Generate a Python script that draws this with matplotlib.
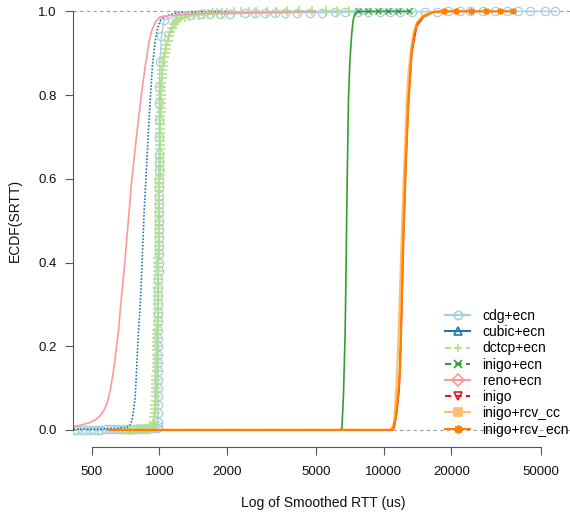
import matplotlib
matplotlib.use('Agg')
from matplotlib import pyplot as plt
from matplotlib.ticker import FixedLocator, NullLocator, FixedFormatter
from matplotlib.lines import Line2D

plt.rcParams['font.family'] = ['Liberation Sans', 'DejaVu Sans']

# ---- data (SRTT in us, ECDF value) ----
labels = ['cdg+ecn', 'cubic+ecn', 'dctcp+ecn', 'inigo+ecn', 'reno+ecn',
          'inigo', 'inigo+rcv_cc', 'inigo+rcv_ecn']
colors = ['#A6CEE3', '#1F78B4', '#B2DF8A', '#33A02C', '#FB9A99',
          '#E31A1C', '#FDBF6F', '#FF7F00']

cdg_x = [414, 430, 450, 470, 490, 510, 530, 550, 575, 600, 625, 650, 680,
         710, 740, 770, 800, 830, 860, 890, 920, 950, 970, 980,
         982, 983, 983, 984, 984, 985, 985, 986, 986, 987, 987, 987, 988,
         988, 988, 989, 989, 989, 990, 990, 990, 991, 991, 991, 992, 992,
         992, 993, 993, 994, 994, 995, 995, 996, 997, 998, 1000, 1005,
         1020, 1050,
         1236, 1370, 1518, 1682, 1864, 2065, 2409, 2669, 2958, 3277, 3631,
         4107, 4690, 5310, 6070, 6720, 7680, 8510, 9640, 10660, 11810,
         13360, 15260, 17260, 19320, 21850, 24210, 27670, 31290, 35390,
         39620, 44810, 52230, 57700]
cdg_y = [0.001, 0.001, 0.001, 0.001, 0.001, 0.001, 0.001, 0.001, 0.002,
         0.002, 0.002, 0.002, 0.002, 0.002, 0.002, 0.002, 0.003, 0.003,
         0.003, 0.003, 0.004, 0.004, 0.005, 0.01,
         0.02, 0.04, 0.06, 0.08, 0.10, 0.12, 0.14, 0.16, 0.18, 0.20, 0.22,
         0.24, 0.26, 0.28, 0.30, 0.32, 0.34, 0.36, 0.38, 0.40, 0.42, 0.44,
         0.46, 0.48, 0.50, 0.52, 0.54, 0.56, 0.58, 0.60, 0.62, 0.64, 0.66,
         0.70, 0.74, 0.78, 0.82, 0.88, 0.94, 0.98,
         0.991, 0.992, 0.993, 0.993, 0.994, 0.994, 0.995, 0.995, 0.996,
         0.996, 0.996, 0.997, 0.997, 0.997, 0.998, 0.998, 0.998, 0.998,
         0.999, 0.999, 0.999, 0.999, 0.999, 0.999, 1.0, 1.0, 1.0, 1.0,
         1.0, 1.0, 1.0, 1.0, 1.0, 1.0]

cubic_x = [414, 500, 600, 716, 740, 753, 766, 779, 793, 806, 821, 838, 855,
           870, 890, 909, 930, 957, 980, 1010, 1079, 1200, 1500, 2000]
cubic_y = [0.002, 0.002, 0.003, 0.006, 0.012, 0.022, 0.045, 0.078, 0.158,
           0.237, 0.30, 0.41, 0.525, 0.60, 0.70, 0.788, 0.87, 0.93, 0.96,
           0.978, 0.99, 0.997, 0.999, 1.0]

dctcp_x = [690, 710, 730, 750, 770, 790, 810, 830, 850, 870, 890, 905, 918,
           928, 935, 940, 945, 950,
           953, 956, 958, 960, 962, 964, 966, 967, 968, 969,
           970, 971, 972, 973, 974, 975, 976, 977, 977, 978,
           979, 980, 980, 981, 982, 982, 983, 984, 984, 985,
           985, 986, 987, 987, 988, 988, 989, 989, 990, 990,
           991, 991, 992, 992, 993, 993, 994, 995, 995, 996,
           996, 997, 997, 998, 999, 999, 1000, 1001, 1001, 1002,
           1003, 1003, 1004, 1005, 1005, 1006, 1007, 1007, 1008, 1009,
           1009, 1010, 1011, 1011, 1012, 1013, 1014, 1016, 1018, 1020,
           1023, 1026, 1030, 1034, 1040, 1047, 1055, 1064, 1074, 1086,
           1100, 1117, 1137, 1160,
           1180, 1200, 1240, 1300, 1360, 1430, 1500, 1580, 1650, 1730,
           1800, 1900, 2000, 2150, 2300, 2500, 2700, 3000, 3300, 3700,
           4200, 4800, 5500, 6200, 7000]
dctcp_y = [0.0, 0.0, 0.001, 0.001, 0.001, 0.002, 0.002, 0.002, 0.003,
           0.003, 0.003, 0.004, 0.005, 0.007, 0.01, 0.015, 0.02, 0.03,
           0.04, 0.05, 0.06, 0.07, 0.08, 0.09, 0.10, 0.11, 0.12, 0.13,
           0.14, 0.15, 0.16, 0.17, 0.18, 0.19, 0.20, 0.21, 0.22, 0.23,
           0.24, 0.25, 0.26, 0.27, 0.28, 0.29, 0.30, 0.31, 0.32, 0.33,
           0.34, 0.35, 0.36, 0.37, 0.38, 0.39, 0.40, 0.41, 0.42, 0.43,
           0.44, 0.45, 0.46, 0.47, 0.48, 0.49, 0.50, 0.51, 0.52, 0.53,
           0.54, 0.55, 0.56, 0.57, 0.58, 0.59, 0.60, 0.61, 0.62, 0.63,
           0.64, 0.65, 0.66, 0.67, 0.68, 0.69, 0.70, 0.71, 0.72, 0.73,
           0.74, 0.75, 0.76, 0.77, 0.78, 0.79, 0.80, 0.81, 0.82, 0.83,
           0.84, 0.85, 0.86, 0.87, 0.88, 0.89, 0.90, 0.91, 0.92, 0.93,
           0.94, 0.95, 0.96, 0.97,
           0.975, 0.98, 0.984, 0.987, 0.989, 0.991, 0.992, 0.993, 0.994,
           0.995, 0.996, 0.997, 0.997, 0.998, 0.998, 0.999, 0.999, 0.999,
           0.999, 1.0, 1.0, 1.0, 1.0, 1.0, 1.0]

inigo_ecn_x = [600, 1500, 3000, 5000, 6300, 6494, 6600, 6717, 6780, 6839,
               6900, 6950, 7050, 7190, 7300, 7440, 7700, 8500, 9400, 10400,
               11600, 13000]
inigo_ecn_y = [0.0, 0.0, 0.0, 0.0, 0.0, 0.003, 0.08, 0.23, 0.38, 0.549,
               0.68, 0.788, 0.88, 0.948, 0.98, 0.995, 1.0, 1.0, 1.0, 1.0,
               1.0, 1.0]

reno_x = [414, 450, 491, 520, 544, 565, 583, 603, 624, 646, 657, 668, 695,
          716, 750, 793, 830, 863, 900, 925, 960, 1007, 1116, 1500, 3000,
          5000]
reno_y = [0.008, 0.012, 0.018, 0.025, 0.034, 0.047, 0.063, 0.094, 0.142,
          0.206, 0.237, 0.285, 0.38, 0.46, 0.59, 0.71, 0.80, 0.867, 0.93,
          0.955, 0.975, 0.987, 0.99, 0.995, 0.998, 1.0]

inigo_x = [600, 5000, 10900, 11100, 11400, 11700, 11950, 12200, 12500,
           12850, 13300, 14000, 15200, 16300, 17500]
inigo_y = [0.0, 0.0, 0.0, 0.005, 0.04, 0.10, 0.25, 0.45, 0.63, 0.78, 0.90,
           0.965, 0.99, 0.998, 1.0]

rcv_cc_x = [600, 5000, 10500, 10900, 11100, 11300, 11490, 11750, 12020,
            12300, 12650, 12900, 13180, 13600, 14010, 14800, 16000, 17500]
rcv_cc_y = [0.0, 0.0, 0.0, 0.005, 0.02, 0.08, 0.15, 0.30, 0.469, 0.62,
            0.788, 0.86, 0.907, 0.95, 0.972, 0.988, 0.997, 1.0]

rcv_ecn_x = [600, 5000, 10800, 11020, 11300, 11550, 11810, 12000, 12220,
             12550, 12870, 13310, 13700, 14100, 15000, 16560, 18500, 21000,
             24500, 28500, 33000, 37700]
rcv_ecn_y = [0.0, 0.0, 0.0, 0.005, 0.03, 0.08, 0.15, 0.30, 0.469, 0.65,
             0.788, 0.907, 0.95, 0.972, 0.988, 0.998, 1.0, 1.0, 1.0, 1.0,
             1.0, 1.0]

xticks = [500, 1000, 2000, 5000, 10000, 20000, 50000]
yticks = [0.0, 0.2, 0.4, 0.6, 0.8, 1.0]

fig = plt.figure(figsize=(5.7, 5.14), dpi=100)
ax = fig.add_axes([0.1286, 0.1309, 0.8767, 0.8796])
ax.set_xscale('log')
ax.set_xlim(413, 69600)
ax.set_ylim(-0.04, 1.04)

grey = '#999999'
ax.axhline(0, color=grey, lw=0.8, dashes=(3, 3), zorder=0)
ax.axhline(1, color=grey, lw=0.8, dashes=(3, 3), zorder=0)

ax.plot(cdg_x, cdg_y, color=colors[0], lw=1, marker='o', ms=6,
        mfc='none', mew=0.9)
ax.plot(cubic_x, cubic_y, color=colors[1], lw=1.2, dashes=(1, 1))
ax.plot(dctcp_x, dctcp_y, color=colors[2], lw=1, dashes=(3, 3),
        marker='+', ms=7.5, mew=1.1)
ax.plot(inigo_ecn_x, inigo_ecn_y, color=colors[3], lw=1.2,
        marker='x', ms=4, mew=0.9, markevery=list(range(16, 22)))
ax.plot(reno_x, reno_y, color=colors[4], lw=1.2)
ax.plot(inigo_x, inigo_y, color=colors[5], lw=1.2)
ax.plot(rcv_cc_x, rcv_cc_y, color=colors[6], lw=1.6)
ax.plot(rcv_ecn_x, rcv_ecn_y, color=colors[7], lw=1.6,
        marker=(8, 2, 0), ms=5, mew=0.9, markevery=list(range(16, 22)))

# R style detached axes
for s in ['top', 'right']:
    ax.spines[s].set_visible(False)
ax.spines['left'].set_bounds(0, 1)
ax.spines['bottom'].set_bounds(500, 50000)
for s in ['left', 'bottom']:
    ax.spines[s].set_color('#555555')
    ax.spines[s].set_linewidth(0.8)

ax.xaxis.set_major_locator(FixedLocator(xticks))
ax.xaxis.set_major_formatter(FixedFormatter([str(t) for t in xticks]))
ax.xaxis.set_minor_locator(NullLocator())
ax.set_yticks(yticks)
ax.set_yticklabels(['%.1f' % t for t in yticks])
ax.tick_params(axis='both', length=5.8, width=0.8, color='#555555',
               labelsize=9.5, labelcolor='#111111')
ax.tick_params(axis='x', pad=8)
ax.tick_params(axis='y', pad=6)

ax.set_xlabel('Log of Smoothed RTT (us)', fontsize=10, labelpad=13,
              color='#111111')
ax.set_ylabel('ECDF(SRTT)', fontsize=10, labelpad=12, color='#111111')

markers = ['o', '^', '+', 'x', 'D', 'v', 's', (8, 2, 0)]
dashed = [False, False, True, True, False, True, False, False]
handles = []
for i in range(len(labels)):
    h = Line2D([], [], color=colors[i], lw=1.5, marker=markers[i], ms=6,
               mew=1.2, mfc=colors[i] if i == 6 else 'none')
    if dashed[i]:
        h.set_dashes((3, 2))
    handles.append(h)
leg = ax.legend(handles, labels, loc='upper left',
                bbox_to_anchor=(445 / 570, 1 - 309 / 514),
                bbox_transform=fig.transFigure, frameon=False, fontsize=10,
                handlelength=1.8, handletextpad=0.9, labelspacing=0.16,
                borderpad=0, borderaxespad=0)

fig.savefig('out.png', dpi=100)
